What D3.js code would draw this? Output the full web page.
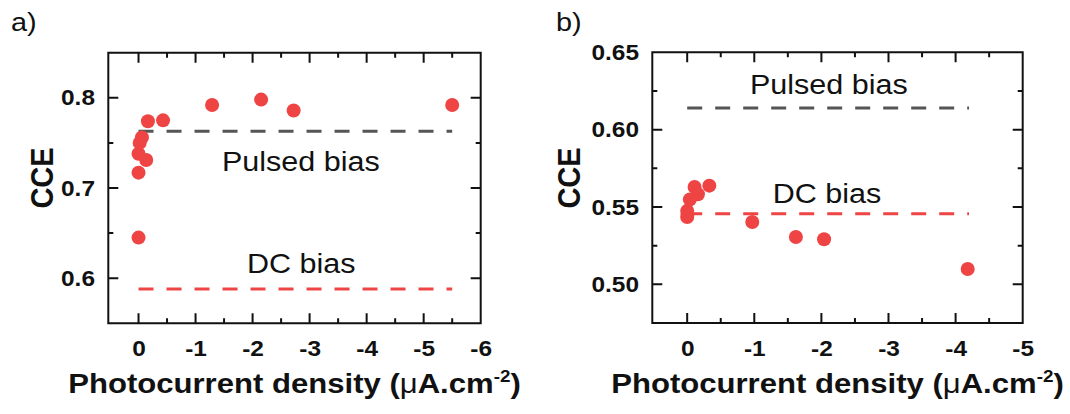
<!DOCTYPE html>
<html lang="en">
<head>
    <meta charset="UTF-8">
    <title>CCE vs photocurrent density</title>
    <script src="https://d3js.org/d3.v7.min.js"></script>
    <style>
        body { margin: 0; background: #fff; }
        svg { display: block; font-family: "Liberation Sans", Arial, sans-serif; }
    </style>
</head>
<body>
    <div id="chart"></div>
    <script>
        // Panel a) data
        const aX = [0, 0, 0, -0.02, -0.06, -0.135, -0.165, -0.43, -1.29, -2.15, -2.72, -5.50];
        const aY = [0.645, 0.717, 0.738, 0.750, 0.756, 0.731, 0.774, 0.775, 0.792, 0.798, 0.786, 0.792];
        const aPulsed = 0.763;
        const aDC = 0.588;
        const aLineEnd = -5.5;
        const aXTicks = [0, -1, -2, -3, -4, -5, -6];
        const aYTicks = [0.6, 0.7, 0.8];

        // Panel b) data
        const bX = [0, -0.005, 0, -0.04, -0.11, -0.16, -0.33, -0.97, -1.62, -2.04, -4.18];
        const bY = [0.5435, 0.5455, 0.5475, 0.5548, 0.5629, 0.5582, 0.5638, 0.5403, 0.5306, 0.5291, 0.5099];
        const bPulsed = 0.614;
        const bDC = 0.5457;
        const bLineEnd = -4.2;
        const bXTicks = [0, -1, -2, -3, -4, -5];
        const bYTicks = [0.50, 0.55, 0.60, 0.65];

        const red = "#ef4444";
        const gray = "#555555";
        const stretch = "scale(1.11,1)";

        const svg = d3.select("#chart").append("svg")
            .attr("width", 1070)
            .attr("height", 414);

        function drawPanel(p) {
            const x = d3.scaleLinear().domain(p.xDomain).range([p.left, p.right]);
            const y = d3.scaleLinear().domain(p.yDomain).range([p.bottom, p.top]);
            const g = svg.append("g");

            // minor tick values halfway between the majors
            const xStep = p.xTicks[1] - p.xTicks[0];
            const yStep = p.yTicks[1] - p.yTicks[0];
            const xMinor = p.xTicks.slice(0, -1).map(v => v + xStep / 2);
            const yMinor = d3.range(p.yTicks[0] - yStep / 2, p.yDomain[1], yStep)
                .filter(v => v > p.yDomain[0] + 1e-9 && v < p.yDomain[1] - 1e-9);

            // frame and inward ticks on all four sides, as one path
            const path = d3.path();
            path.moveTo(p.left, p.top);
            path.lineTo(p.right, p.top);
            path.lineTo(p.right, p.bottom);
            path.lineTo(p.left, p.bottom);
            path.closePath();
            [[p.xTicks, 10], [xMinor, 5]].forEach(([vals, len]) => {
                vals.forEach(v => {
                    path.moveTo(x(v), p.bottom); path.lineTo(x(v), p.bottom - len);
                    path.moveTo(x(v), p.top); path.lineTo(x(v), p.top + len);
                });
            });
            [[p.yTicks, 10], [yMinor, 5]].forEach(([vals, len]) => {
                vals.forEach(v => {
                    path.moveTo(p.left, y(v)); path.lineTo(p.left + len, y(v));
                    path.moveTo(p.right, y(v)); path.lineTo(p.right - len, y(v));
                });
            });
            g.append("path")
                .attr("d", path.toString())
                .attr("fill", "none")
                .attr("stroke", "#111")
                .attr("stroke-width", 2);

            // tick labels from d3 axes
            const xAxis = g.append("g").attr("transform", `translate(0,${p.bottom})`)
                .call(d3.axisBottom(x).tickValues(p.xTicks).tickSize(0)
                    .tickPadding(17).tickFormat(p.fmt[0]));
            const yAxis = g.append("g").attr("transform", `translate(${p.left},0)`)
                .call(d3.axisLeft(y).tickValues(p.yTicks).tickSize(0)
                    .tickPadding(12).tickFormat(p.fmt[1]));
            [xAxis, yAxis].forEach(a => {
                a.select(".domain").remove();
                a.selectAll(".tick line").remove();
                a.selectAll("text")
                    .attr("fill", "#111")
                    .attr("font-size", 22)
                    .attr("font-weight", "bold")
                    .attr("font-family", "Liberation Sans, Arial, sans-serif")
                    .attr("transform", stretch);
            });

            // reference lines
            [[p.pulsed, gray], [p.dc, red]].forEach(([v, c]) => {
                g.append("line")
                    .attr("x1", x(0)).attr("x2", x(p.lineEnd))
                    .attr("y1", y(v)).attr("y2", y(v))
                    .attr("stroke", c).attr("stroke-width", 3)
                    .attr("stroke-dasharray", "15,13");
            });

            // points
            g.selectAll("circle.pt")
                .data(p.xs.map((v, i) => [v, p.ys[i]]))
                .join("circle")
                .attr("class", "pt")
                .attr("cx", d => x(d[0]))
                .attr("cy", d => y(d[1]))
                .attr("r", 7)
                .attr("fill", red);

            // annotations
            p.notes.forEach(n => {
                g.append("text")
                    .attr("transform", `translate(${n.x},${n.y}) ${stretch}`)
                    .attr("font-size", 27.5)
                    .attr("fill", "#111")
                    .text(n.text);
            });

            // panel letter
            g.append("text")
                .attr("transform", `translate(${p.letterX},31) ${stretch}`)
                .attr("font-size", 26)
                .attr("fill", "#111")
                .text(p.letter);

            // y title
            g.append("text")
                .attr("transform", `translate(${p.yTitleX},178) ${stretch} rotate(-90)`)
                .attr("text-anchor", "middle")
                .attr("font-size", 29)
                .attr("font-weight", "bold")
                .attr("fill", "#111")
                .text("CCE");

            // x title
            const xt = g.append("text")
                .attr("transform", `translate(${(p.left + p.right) / 2},393) ${stretch}`)
                .attr("text-anchor", "middle")
                .attr("font-size", 28)
                .attr("font-weight", "bold")
                .attr("fill", "#111");
            xt.append("tspan").text("Photocurrent density (");
            xt.append("tspan").attr("font-weight", "normal").text("\u03bc");
            xt.append("tspan").text("A.cm");
            xt.append("tspan").attr("dy", -11).attr("font-size", 17).text("-2");
            xt.append("tspan").attr("dy", 11).text(")");
        }

        drawPanel({
            left: 108.3, right: 480.7, top: 52.7, bottom: 323.3,
            xDomain: [0.53, -6], yDomain: [0.55, 0.85],
            xTicks: aXTicks, yTicks: aYTicks,
            fmt: [d => String(d), d => d.toFixed(1)],
            xs: aX, ys: aY,
            pulsed: aPulsed, dc: aDC, lineEnd: aLineEnd,
            notes: [
                { text: "Pulsed bias", x: 222, y: 170.5 },
                { text: "DC bias", x: 247, y: 273 }
            ],
            letter: "a)", letterX: 11, yTitleX: 53
        });

        drawPanel({
            left: 652.3, right: 1022.7, top: 52.3, bottom: 323,
            xDomain: [0.52, -5], yDomain: [0.475, 0.65],
            xTicks: bXTicks, yTicks: bYTicks,
            fmt: [d => String(d), d => d.toFixed(2)],
            xs: bX, ys: bY,
            pulsed: bPulsed, dc: bDC, lineEnd: bLineEnd,
            notes: [
                { text: "Pulsed bias", x: 750, y: 94.3 },
                { text: "DC bias", x: 772.7, y: 202.7 }
            ],
            letter: "b)", letterX: 556, yTitleX: 580
        });
    </script>
</body>
</html>
